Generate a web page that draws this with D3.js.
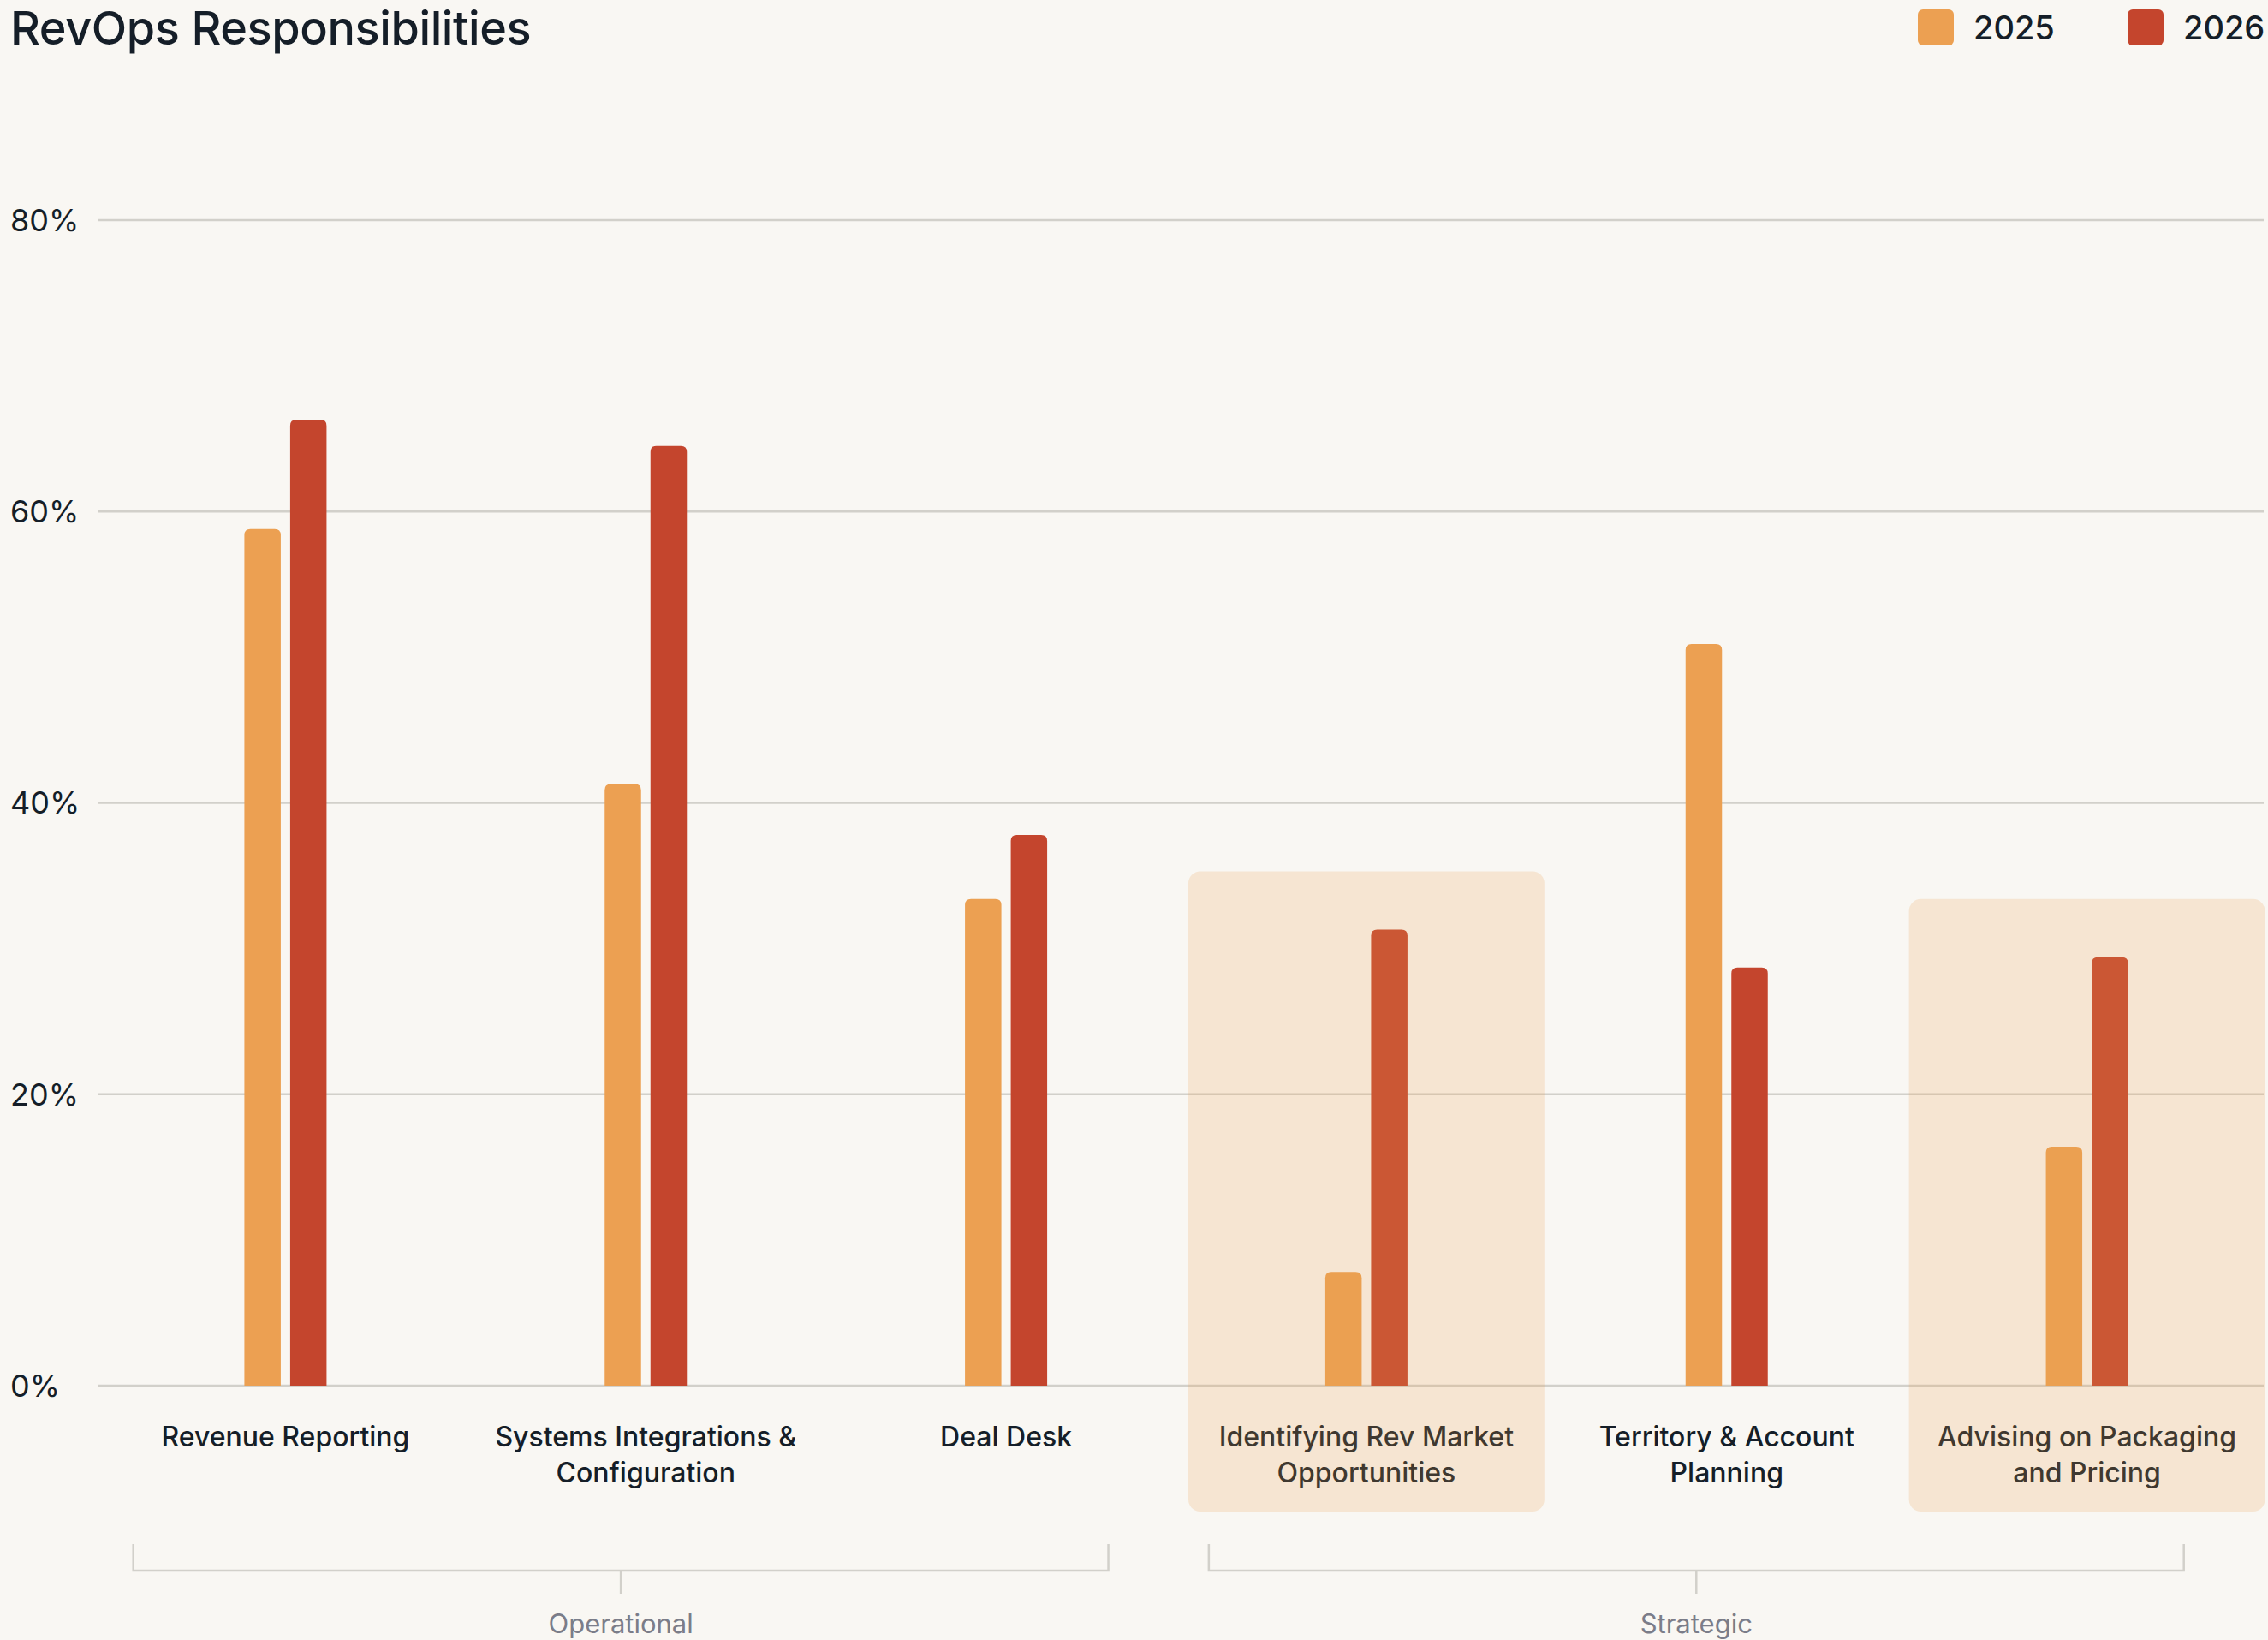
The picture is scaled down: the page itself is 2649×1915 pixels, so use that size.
<!DOCTYPE html>
<html>
<head>
<meta charset="utf-8">
<script src="https://cdn.jsdelivr.net/npm/d3@7"></script>
<style>
  html, body { margin: 0; padding: 0; background: #f9f7f3; }
  svg { display: block; font-family: Inter, "Noto Sans", sans-serif; }
</style>
</head>
<body>
<svg id="chart" width="2649" height="1915"></svg>
<script>
// ---- data ----
const categories = [
  "Revenue Reporting",
  "Systems Integrations & Configuration",
  "Deal Desk",
  "Identifying Rev Market Opportunities",
  "Territory & Account Planning",
  "Advising on Packaging and Pricing"
];
const labelLines = [
  ["Revenue Reporting"],
  ["Systems Integrations &", "Configuration"],
  ["Deal Desk"],
  ["Identifying Rev Market", "Opportunities"],
  ["Territory & Account", "Planning"],
  ["Advising on Packaging", "and Pricing"]
];
const seriesNames = ["2025", "2026"];
const values2025 = [58.8, 41.3, 33.4, 7.8, 50.9, 16.4];
const values2026 = [66.3, 64.5, 37.8, 31.3, 28.7, 29.4];
const highlighted = ["Identifying Rev Market Opportunities", "Advising on Packaging and Pricing"];
const groupNames = ["Operational", "Strategic"];
const yTicks = [0, 20, 40, 60, 80];
const colors = ["#eca052", "#c4452d"];

// ---- layout ----
const svg = d3.select("#chart");
const textColor = "#151e28";
const gridColor = "#d2d0ca";

const x = d3.scaleBand().domain(categories).range([123, 2648]).padding(0);
const y = d3.scaleLinear().domain([0, 80]).range([1618, 257]);
const gx = d3.scaleBand().domain(groupNames).range([155.7, 2550.7]).paddingInner(0.0934).paddingOuter(0);
const barW = 42.5, barGap = 11;

const cx = c => x(c) + x.bandwidth() / 2;

// Title
svg.append("text").attr("x", 12).attr("y", 52)
  .attr("font-size", 54).attr("font-weight", 500).attr("fill", textColor)
  .attr("letter-spacing", -0.4)
  .text("RevOps Responsibilities");

// Legend
const legendX = [2240, 2485];
seriesNames.forEach((s, i) => {
  svg.append("rect").attr("x", legendX[i]).attr("y", 11).attr("width", 42).attr("height", 42)
    .attr("rx", 6).attr("fill", colors[i]);
  svg.append("text").attr("x", legendX[i] + 65).attr("y", 46)
    .attr("font-size", 38).attr("font-weight", 500).attr("fill", textColor).text(s);
});

// Grid + y labels
const grid = svg.append("g");
yTicks.forEach(t => {
  grid.append("line").attr("x1", 115).attr("x2", 2644)
    .attr("y1", y(t)).attr("y2", y(t))
    .attr("stroke", gridColor).attr("stroke-width", 2.5);
  grid.append("text").attr("x", 12).attr("y", y(t)).attr("dy", "0.36em")
    .attr("font-size", 36).attr("fill", textColor).text(t + "%");
});

// Bars with rounded tops
function topRounded(x0, y0, w, h, r) {
  r = Math.min(r, h, w / 2);
  return `M${x0},${y0 + h}V${y0 + r}Q${x0},${y0} ${x0 + r},${y0}H${x0 + w - r}Q${x0 + w},${y0} ${x0 + w},${y0 + r}V${y0 + h}Z`;
}
const allVals = [values2025, values2026];
const barsG = svg.append("g");
categories.forEach((c, ci) => {
  const left = cx(c) - (barW * 2 + barGap) / 2;
  seriesNames.forEach((s, si) => {
    const v = allVals[si][ci];
    const bx = left + si * (barW + barGap);
    barsG.append("path")
      .attr("d", topRounded(bx, y(v), barW, y(0) - y(v), 7))
      .attr("fill", colors[si]);
  });
});

// X labels
const xl = svg.append("g");
categories.forEach((c, ci) => {
  const t = xl.append("text").attr("text-anchor", "middle")
    .attr("font-size", 32).attr("font-weight", 500).attr("fill", textColor);
  labelLines[ci].forEach((ln, li) => {
    t.append("tspan").attr("x", cx(c)).attr("y", 1689 + li * 42).text(ln);
  });
});

// Highlight overlays (drawn on top, translucent)
highlighted.forEach(c => {
  const ci = categories.indexOf(c);
  const mx = Math.max(values2025[ci], values2026[ci]);
  const top = y(mx + 4);
  const bw = x.bandwidth() - 5;
  svg.append("rect")
    .attr("x", cx(c) - bw / 2).attr("y", top)
    .attr("width", bw).attr("height", 1765 - top)
    .attr("rx", 14).attr("fill", "#eca052").attr("fill-opacity", 0.2);
});

// Group brackets
const bg = svg.append("g");
groupNames.forEach(g => {
  const l = gx(g);
  const r = gx(g) + gx.bandwidth();
  const m = (l + r) / 2;
  bg.append("path")
    .attr("d", `M${l},1803V1834H${r}V1803`)
    .attr("fill", "none").attr("stroke", gridColor).attr("stroke-width", 2.5);
  bg.append("line").attr("x1", m).attr("x2", m).attr("y1", 1834).attr("y2", 1861)
    .attr("stroke", gridColor).attr("stroke-width", 2.5);
  bg.append("text").attr("x", m).attr("y", 1907).attr("text-anchor", "middle")
    .attr("font-size", 31).attr("fill", "#7b7d89").text(g);
});
</script>
</body>
</html>
